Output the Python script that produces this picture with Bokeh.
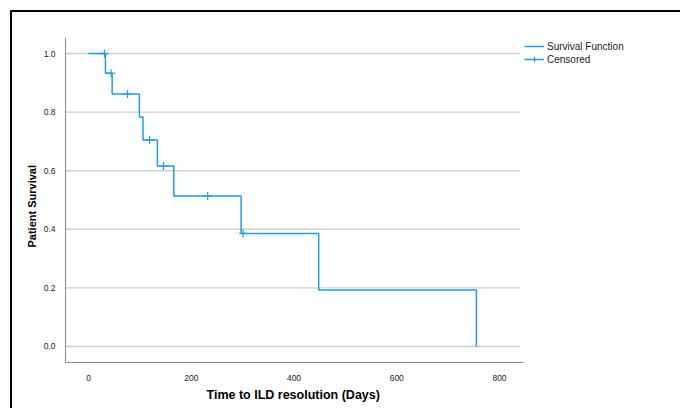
from bokeh.plotting import figure
from bokeh.models import Range1d, FixedTicker, Legend, LegendItem, CustomJSTickFormatter, Title
from bokeh.embed import file_html
from bokeh.resources import INLINE

# Kaplan-Meier step data (days, survival)
step_days = [0, 33, 46, 99, 106, 134, 166, 297, 448, 755]
step_surv = [1.0, 0.933, 0.862, 0.783, 0.705, 0.616, 0.514, 0.386, 0.193, 0.0]

# Censored observations
cens_days = [31, 44, 76, 119, 146, 232, 301]
cens_surv = [1.0, 0.933, 0.862, 0.705, 0.616, 0.514, 0.386]

x_ticks = [0, 200, 400, 600, 800]
y_ticks = [0.0, 0.2, 0.4, 0.6, 0.8, 1.0]

X_LO, X_HI = -44.8, 846.7      # extent of the x axis
X_VIEW_HI = 1152.3             # frame extends right to hold the legend
BLUE = "#1e9fe2"
FONT = "Liberation Sans"

p = figure(width=670, height=398, output_backend="svg", toolbar_location=None,
           x_range=Range1d(X_LO, X_VIEW_HI), y_range=Range1d(-0.0548, 1.0548),
           min_border_left=53, min_border_right=2, min_border_top=25, min_border_bottom=48)
p.styles = {"border-left": "2px solid black", "border-top": "2px solid black",
            "margin-left": "10px", "margin-top": "10px"}
p.outline_line_color = None
p.background_fill_color = "white"
p.border_fill_color = "white"

p.xgrid.grid_line_color = None
p.ygrid.grid_line_color = None
# horizontal gridlines limited to the axis extent
p.segment(x0=[X_LO] * len(y_ticks), y0=y_ticks, x1=[X_HI - 6] * len(y_ticks), y1=y_ticks,
          line_color="#cfcfcf", line_width=1.4)

step_r = p.step(step_days, step_surv, mode="after", line_color=BLUE, line_width=1.5)
cens_r = p.scatter(cens_days, cens_surv, marker="cross", size=8, line_color=BLUE, line_width=1.2)

for ax in (p.xaxis[0], p.yaxis[0]):
    ax.axis_line_color = "#8c8c8c"
    ax.axis_line_width = 1
    ax.major_tick_line_color = None
    ax.minor_tick_line_color = None
    ax.major_label_text_font = FONT
    ax.major_label_text_font_size = "8.5px"
    ax.major_label_text_color = "#222222"

p.xaxis.bounds = (X_LO, X_HI)
p.xaxis.ticker = FixedTicker(ticks=x_ticks)
p.yaxis.ticker = FixedTicker(ticks=y_ticks)
p.yaxis.formatter = CustomJSTickFormatter(code="return tick.toFixed(1);")
p.xaxis.major_label_standoff = 6
p.yaxis.major_label_standoff = 4

ytitle = Title(text="Patient Survival", align="left", offset=115,
               text_font=FONT, text_font_size="11px", text_font_style="bold",
               text_color="black", standoff=6)
p.add_layout(ytitle, "left")

xtitle = Title(text="Time to ILD resolution (Days)", align="left", offset=141,
               text_font=FONT, text_font_size="12.5px", text_font_style="bold",
               text_color="black", standoff=4)
p.add_layout(xtitle, "below")

legend = Legend(items=[
    LegendItem(label="Survival Function", renderers=[step_r]),
    LegendItem(label="Censored", renderers=[step_r, cens_r]),
], location=(459, 297))
legend.padding = 0
legend.margin = 0
legend.spacing = 1
legend.glyph_width = 20
legend.glyph_height = 12
legend.label_height = 12
legend.label_standoff = 3
legend.label_text_font = FONT
legend.label_text_font_size = "10px"
legend.label_text_color = "#222222"
legend.border_line_color = None
legend.background_fill_alpha = 0
p.add_layout(legend, "center")

open("out.html", "w").write(file_html(p, INLINE))
